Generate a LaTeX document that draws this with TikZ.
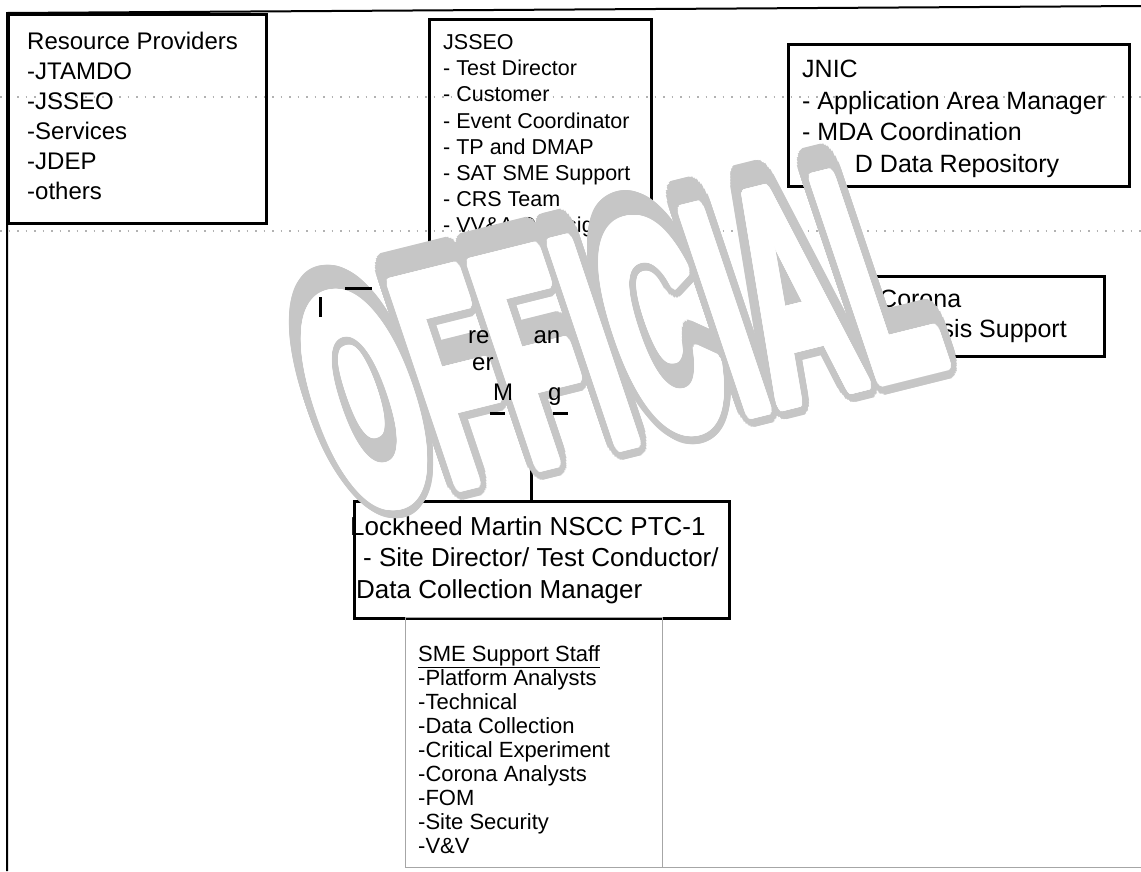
\documentclass[tikz,border=0pt]{standalone}
\usepackage{fontspec}
\setmainfont{Liberation Sans}
\usepackage[copies]{contour}
\contournumber{48}

\begin{document}
\begin{tikzpicture}[x=1pt, y=-1pt,
    box/.style={draw, line width=3pt, anchor=north west, inner sep=0pt},
    thinbox/.style={draw=gray!70, line width=1pt, anchor=north west, inner sep=0pt},
    boxtext/.style={anchor=north west, inner sep=0pt, align=left},
    frag/.style={anchor=base west, inner sep=0pt, font=\fontsize{24}{29}\selectfont},
    edge/.style={line width=3pt},
    link/.style={line width=3pt},
    scan/.style={gray!60, line width=1.2pt, dash pattern=on 1.5pt off 7pt},
    stamp/.style={inner sep=0pt, font=\fontsize{50}{50}\selectfont\bfseries,
        rotate=14, xslant=-0.08, xscale=2.7, yscale=6.1}]
    \fill[white] (0,0) rectangle (1141,871);
    \useasboundingbox (0,0) rectangle (1141,871);

    \draw[line width=2pt] (1141,6) -- (7,13) -- (7,871);
    \draw[gray!70, line width=1pt] (405,867) -- (1141,867);
    \draw[scan] (0,97) -- (1141,97);
    \draw[scan] (0,231) -- (1141,231);

    \node[box, minimum width=258pt, minimum height=209pt] (res) at (7,13) {};
    \node[box, minimum width=222pt, minimum height=245pt] (jsseo) at (428,18) {};
    \node[box, minimum width=341pt, minimum height=142pt] (jnic) at (787,43) {};
    \node[anchor=north west, inner sep=0pt, minimum width=280pt, minimum height=125pt] (mid) at (320,288) {};
    \node[box, minimum width=237pt, minimum height=80pt] (corona) at (866,275) {};
    \node[box, minimum width=375pt, minimum height=117pt] (lm) at (353,500) {};
    \node[thinbox, minimum width=257pt, minimum height=250pt] (sme) at (405,617) {};

    \draw[link] ([xshift=-10.5pt]lm.north) -- ([xshift=-10.5pt]lm.north |- mid.south);

    \node[boxtext, font=\fontsize{24}{30}\selectfont] (resT) at (27,31.5)
        {Resource Providers\\-JTAMDO\\-JSSEO\\-Services\\-JDEP\\-others};
    \node[boxtext, font=\fontsize{21.5}{26.2}\selectfont] (jsseoT) at (443,34.3)
        {JSSEO\\- Test Director\\- Customer\\- Event Coordinator\\- TP and DMAP\\
         - SAT SME Support\\- CRS Team\\- VV\&A Oversight};
    \node[boxtext, font=\fontsize{25}{31.7}\selectfont] (jnicT) at (802,59.8)
        {JNIC\\- Application Area Manager\\- MDA Coordination\\- A\phantom{M}D Data Repository};
    \node[boxtext, font=\fontsize{25}{30}\selectfont] (coronaT) at (879,289.8)
        {Corona\\Analysis Support};
    \node[boxtext, font=\fontsize{26}{31.5}\selectfont] (lmT) at (356,516)
        {\hspace*{-6pt}Lockheed Martin NSCC PTC-1\\\hspace*{7pt}- Site Director/ Test Conductor/\\
         Data Collection Manager};
    \node[boxtext, font=\fontsize{22}{24.1}\selectfont] (smeT) at (418,645)
        {\underline{SME Support Staff}\\-Platform Analysts\\-Technical\\-Data Collection\\
         -Critical Experiment\\-Corona Analysts\\-FOM\\-Site Security\\-V\&V};

    \node[stamp, text=gray!45] (stampG) at (617,341)
        {\contourlength{4pt}\contour{gray!45}{OFFICIAL}};
    \node[stamp, text=white] (stampW) at (617,341)
        {\contourlength{1.2pt}\contour{white}{OFFICIAL}};

    \draw[edge] ([yshift=-9pt]mid.north west) -- ([yshift=-29pt]mid.north west);
    \draw[edge] ([xshift=25pt]mid.north west) -- ([xshift=52pt]mid.north west);
    \draw[edge] ([xshift=170pt]mid.south west) -- ([xshift=185pt]mid.south west);
    \draw[edge] ([xshift=233pt]mid.south west) -- ([xshift=248pt]mid.south west);
    \node[frag] (midA) at (468,343) {re\hspace{44pt}an};
    \node[frag] (midB) at (472,370) {er};
    \node[frag] (midC) at (493,400) {M\hspace{35pt}g};
\end{tikzpicture}
\end{document}
